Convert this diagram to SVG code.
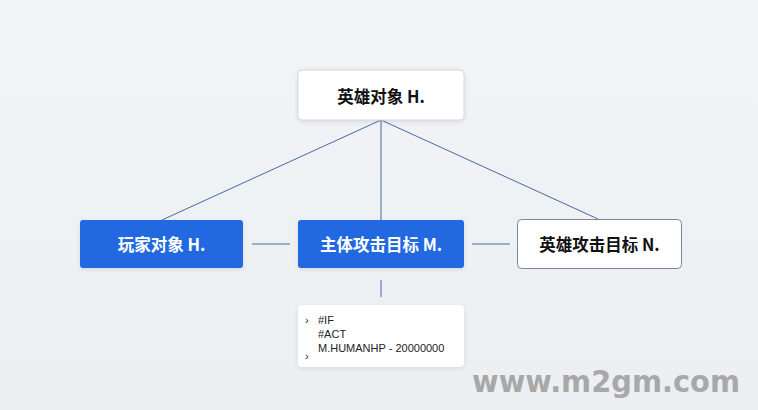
<svg xmlns="http://www.w3.org/2000/svg" width="758" height="410" viewBox="0 0 758 410">
<defs>
<linearGradient id="bg" x1="0" y1="0" x2="0" y2="1">
<stop offset="0" stop-color="#f2f4f6"/>
<stop offset="1" stop-color="#ebeff2"/>
</linearGradient>
<filter id="sh" x="-10%" y="-20%" width="120%" height="150%">
<feDropShadow dx="0" dy="1.5" stdDeviation="2" flood-color="#5a6a80" flood-opacity="0.18"/>
</filter>
</defs>
<style>
.blue{fill:#2468e0;}
.white{fill:#ffffff;}
.lbl{font-family:"Noto Sans CJK SC","Liberation Sans",sans-serif;font-size:16.5px;font-weight:700;text-anchor:middle;dominant-baseline:central;}
.code{font-family:"Liberation Sans","Noto Sans",sans-serif;font-size:11px;fill:#222;}
.ln{stroke:#4a66a6;stroke-width:1;fill:none;}
</style>
<rect width="758" height="410" fill="url(#bg)"/>
<g id="connectors">
<line class="ln" x1="381" y1="120" x2="162" y2="220"/>
<line class="ln" x1="381" y1="120" x2="381" y2="220"/>
<line class="ln" x1="381" y1="120" x2="598" y2="219"/>
<line class="ln" x1="252" y1="244" x2="290" y2="244" stroke="#7a8aa8"/>
<line class="ln" x1="472" y1="244" x2="510" y2="244" stroke="#7a8aa8"/>
<line class="ln" x1="381" y1="280" x2="381" y2="297" stroke="#c8ced8"/>
</g>
<g id="node-hero">
<rect x="298" y="70" width="166" height="50" rx="4" class="white" stroke="#d4d8de" filter="url(#sh)"/>
<text x="381" y="96" class="lbl" fill="#111">英雄对象 H.</text>
</g>
<g id="node-player">
<rect x="80" y="220" width="163" height="48" rx="3" class="blue" filter="url(#sh)"/>
<text x="161.5" y="244" class="lbl" fill="#fff">玩家对象 H.</text>
</g>
<g id="node-main">
<rect x="298" y="220" width="166" height="48" rx="3" class="blue" filter="url(#sh)"/>
<text x="381" y="244" class="lbl" fill="#fff">主体攻击目标 M.</text>
</g>
<g id="node-target">
<rect x="517.5" y="219.5" width="164" height="49" rx="4" class="white" stroke="#7c859a"/>
<text x="599.5" y="244" class="lbl" fill="#111">英雄攻击目标 N.</text>
</g>
<g id="node-code">
<rect x="298" y="305" width="166" height="62" rx="4" class="white" filter="url(#sh)"/>
<text x="305" y="324" class="code" fill="#555">›</text>
<text x="318" y="324" class="code">#IF</text>
<text x="318" y="338" class="code">#ACT</text>
<text x="318" y="352" class="code">M.HUMANHP - 20000000</text>
<text x="305" y="360" class="code" fill="#555">›</text>
</g>
<text x="472" y="392" font-family="DejaVu Sans,sans-serif" font-size="30" font-weight="700" fill="#a8a8a8" textLength="268" lengthAdjust="spacingAndGlyphs">www.m2gm.com</text>
</svg>
